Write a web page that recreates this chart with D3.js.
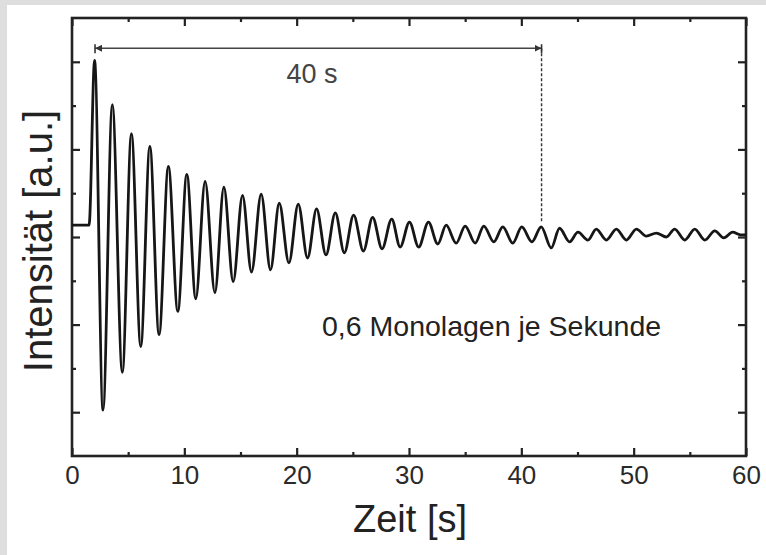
<!DOCTYPE html>
<html>
<head>
<meta charset="utf-8">
<script src="https://d3js.org/d3.v7.min.js"></script>
<style>
  body { margin: 0; background: #fff; }
  text { font-family: "Liberation Sans", Arial, Helvetica, sans-serif; }
</style>
</head>
<body>
<script>

    var times = [0, 1.52, 2.01, 2.76, 3.59, 4.48, 5.29, 6.12, 6.93, 7.75, 8.58, 9.42, 10.22, 11.02,
                 11.85, 12.72, 13.52, 14.35, 15.18, 15.98, 16.84, 17.67, 18.45, 19.31, 20.14, 20.97,
                 21.77, 22.61, 23.44, 24.24, 25.07, 25.94, 26.76, 27.60, 28.46, 29.21, 30.04, 30.86,
                 31.73, 32.56, 33.31, 34.20, 35.0, 35.89, 36.66, 37.55, 38.35, 39.24, 40.04, 40.94,
                 41.77, 42.66, 43.40, 44.30, 45.04, 45.93, 46.67, 47.57, 48.46, 49.35, 50.24, 51.13,
                 52.02, 52.91, 53.65, 54.55, 55.44, 56.33, 57.22, 58.02, 58.82, 59.5, 60];
    var intensity = [4.27, 4.27, 8.03, 0.05, 7.02, 0.91, 6.36, 1.50, 6.07, 1.77, 5.61, 2.30, 5.43, 2.59,
                     5.27, 2.73, 5.14, 2.98, 4.95, 3.20, 4.98, 3.25, 4.77, 3.41, 4.75, 3.52,
                     4.64, 3.59, 4.55, 3.64, 4.50, 3.68, 4.45, 3.73, 4.41, 3.77, 4.34, 3.77,
                     4.34, 3.84, 4.27, 3.86, 4.25, 3.86, 4.25, 3.89, 4.23, 3.86, 4.23, 3.89,
                     4.23, 3.75, 4.20, 3.89, 4.11, 3.93, 4.18, 3.93, 4.18, 3.93, 4.18, 4.02,
                     4.09, 4.00, 4.18, 3.93, 4.18, 3.93, 4.14, 3.98, 4.11, 4.05, 4.05];

    var xMajor = [0, 10, 20, 30, 40, 50, 60];
    var xMinor = [5, 15, 25, 35, 45, 55];
    var yMajor = [0, 2, 4, 6, 8];
    var yMinor = [1, 3, 5, 7];

    var spanStart = 2.05, spanEnd = 41.8, spanLevel = 8.31, dropLevel = 4.34;
    var spanLabel = "40 s";
    var rateLabel = "0,6 Monolagen je Sekunde";

    var W = 766, H = 555;
    var pLeft = 72, pRight = 746, pTop = 18, pBottom = 456;

    var svg = d3.select("body").append("svg").attr("width", W).attr("height", H);

    svg.append("rect").attr("width", W).attr("height", H).attr("fill", "#dedede");
    svg.append("rect").attr("x", 7).attr("y", 5).attr("width", W - 7).attr("height", H - 5).attr("fill", "#fff");

    var x = d3.scaleLinear().domain([0, 60]).range([pLeft, pRight]);
    var y = d3.scaleLinear().domain([-1, 9]).range([pBottom, pTop]);

    function axisGroup(axis, tx, ty) {
      var g = svg.append("g").attr("transform", "translate(" + tx + "," + ty + ")").call(axis);
      g.select(".domain").remove();
      g.selectAll("line").attr("stroke", "#222").attr("stroke-width", 2.2);
      return g;
    }

    // bottom
    var gb = axisGroup(d3.axisBottom(x).tickValues(xMajor).tickSize(-8).tickPadding(10), 0, pBottom);
    gb.selectAll("text").attr("font-size", 26).attr("fill", "#2a2a2a");
    axisGroup(d3.axisBottom(x).tickValues(xMinor).tickSize(-4).tickFormat(""), 0, pBottom);
    // top
    axisGroup(d3.axisTop(x).tickValues(xMajor).tickSize(-8).tickFormat(""), 0, pTop);
    axisGroup(d3.axisTop(x).tickValues(xMinor).tickSize(-4).tickFormat(""), 0, pTop);
    // left / right
    axisGroup(d3.axisLeft(y).tickValues(yMajor).tickSize(-8).tickFormat(""), pLeft, 0);
    axisGroup(d3.axisLeft(y).tickValues(yMinor).tickSize(-4).tickFormat(""), pLeft, 0);
    axisGroup(d3.axisRight(y).tickValues(yMajor).tickSize(-8).tickFormat(""), pRight, 0);
    axisGroup(d3.axisRight(y).tickValues(yMinor).tickSize(-4).tickFormat(""), pRight, 0);

    // frame
    svg.append("rect")
      .attr("x", pLeft).attr("y", pTop)
      .attr("width", pRight - pLeft).attr("height", pBottom - pTop)
      .attr("fill", "none").attr("stroke", "#222").attr("stroke-width", 2.6);

    // trace
    var line = d3.line()
      .x(function(d, i) { return x(times[i]); })
      .y(function(d) { return y(d); })
      .curve(d3.curveMonotoneX);

    svg.append("path")
      .datum(intensity)
      .attr("d", line)
      .attr("fill", "none")
      .attr("stroke", "#161616")
      .attr("stroke-width", 2.8)
      .attr("stroke-linejoin", "round");

    // 40 s span
    var defs = svg.append("defs");
    defs.append("marker").attr("id", "arr")
      .attr("viewBox", "0 0 10 10").attr("refX", 10).attr("refY", 5)
      .attr("markerWidth", 7).attr("markerHeight", 7).attr("markerUnits", "userSpaceOnUse")
      .attr("orient", "auto-start-reverse")
      .append("path").attr("d", "M0,0L10,5L0,10Z").attr("fill", "#333");

    svg.append("line")
      .attr("x1", x(spanStart)).attr("x2", x(spanEnd))
      .attr("y1", y(spanLevel)).attr("y2", y(spanLevel))
      .attr("stroke", "#444").attr("stroke-width", 1.4)
      .attr("marker-start", "url(#arr)").attr("marker-end", "url(#arr)");

    [spanStart, spanEnd].forEach(function(t) {
      svg.append("line")
        .attr("x1", x(t)).attr("x2", x(t))
        .attr("y1", y(spanLevel) - 4).attr("y2", y(spanLevel) + 5)
        .attr("stroke", "#333").attr("stroke-width", 1.6);
    });

    svg.append("line")
      .attr("x1", x(spanEnd)).attr("x2", x(spanEnd))
      .attr("y1", y(spanLevel)).attr("y2", y(dropLevel))
      .attr("stroke", "#333").attr("stroke-width", 1.4)
      .attr("stroke-dasharray", "3,2");

    svg.append("text")
      .attr("x", 312).attr("y", 83)
      .attr("text-anchor", "middle")
      .attr("font-size", 27).attr("fill", "#444")
      .text(spanLabel);

    svg.append("text")
      .attr("x", 322).attr("y", 336)
      .attr("font-size", 28.5).attr("fill", "#222")
      .text(rateLabel);

    // axis titles
    svg.append("text")
      .attr("x", 410).attr("y", 532)
      .attr("text-anchor", "middle")
      .attr("font-size", 38).attr("fill", "#222")
      .text("Zeit [s]");

    svg.append("text")
      .attr("transform", "translate(52,241) rotate(-90)")
      .attr("text-anchor", "middle")
      .attr("font-size", 40).attr("fill", "#222")
      .text("Intensität [a.u.]");

</script>
</body>
</html>
